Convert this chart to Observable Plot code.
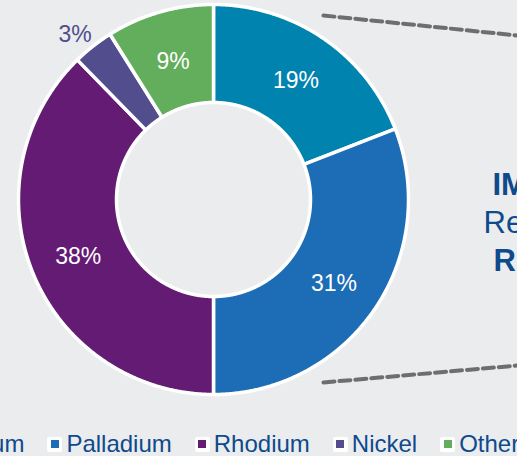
<!DOCTYPE html>
<html>
<head>
<meta charset="utf-8">
<script src="https://cdn.jsdelivr.net/npm/d3@7"></script>
<script src="https://cdn.jsdelivr.net/npm/@observablehq/plot@0.6"></script>
<style>
  html, body { margin: 0; padding: 0; background: #EBECEE; overflow: hidden; }
  #wrap { position: relative; width: 517px; height: 456px; overflow: hidden; font-family: "Liberation Sans", Arial, sans-serif; }
  #chart svg { display: block; }
  #legend { position: absolute; top: 432px; left: -88px; display: flex; gap: 23px; white-space: nowrap; }
  .item { display: flex; align-items: center; height: 24px; }
  .box { width: 15px; height: 15px; background: #fff; border-radius: 2px; display: flex; align-items: center; justify-content: center; }
  .sw { width: 8px; height: 8px; }
  .lab { margin-left: 4px; font-size: 24px; color: #0E4A8C; line-height: 24px; }
</style>
</head>
<body>
<div id="wrap">
  <div id="chart"></div>
  <div id="legend"></div>
</div>
<script>
// ---- data ----
const metals = ["Platinum", "Palladium", "Rhodium", "Nickel", "Other"];
const shares = [19.1, 30.9, 37.7, 3.4, 8.9];
const colors = ["#0083AE", "#1C6DB5", "#641B74", "#524D8C", "#63AE5C"];
const sideLines = ["IMPLATS", "Revenue", "R100bn"];
const sideWeights = ["bold", "normal", "bold"];

// ---- layout ----
const W = 517, H = 425;
const cx = 213, cy = 199;
const rOuter = 195, rInner = 97, rLabel = 146, rOutside = 216;

const rows = metals.map((m, i) => ({metal: m, share: shares[i], color: colors[i]}));
const arcs = d3.pie().sort(null).value(d => d.share)(rows);

const pt = (r, a) => [r * Math.sin(a), r * Math.cos(a)];

const poly = [];
arcs.forEach(a => {
  const n = Math.max(2, Math.ceil((a.endAngle - a.startAngle) / 0.005));
  const pts = [];
  for (let i = 0; i <= n; i++) pts.push(pt(rOuter, a.startAngle + (a.endAngle - a.startAngle) * i / n));
  for (let i = n; i >= 0; i--) pts.push(pt(rInner, a.startAngle + (a.endAngle - a.startAngle) * i / n));
  pts.push(pts[0]);
  pts.forEach(([x, y]) => poly.push({metal: a.data.metal, x, y}));
});

const labels = arcs.map(a => {
  const mid = (a.startAngle + a.endAngle) / 2;
  const inside = a.data.share >= 5;
  const [x, y] = pt(inside ? rLabel : rOutside, mid);
  return {x, y, text: Math.round(a.data.share) + "%", fill: inside ? "#ffffff" : a.data.color, inside};
});

// connector lines toward the side panel (in chart units)
const connectors = [
  {g: "top", x: 110, y: 184}, {g: "top", x: 304, y: 164},
  {g: "bot", x: 110, y: -183}, {g: "bot", x: 304, y: -166}
];
const side = sideLines.map((t, i) => ({
  text: t, weight: sideWeights[i],
  x: [279, 270, 280][i], y: [5, -33, -71][i]
}));

const plot = Plot.plot({
  width: W, height: H,
  margin: 0,
  style: {background: "transparent", fontFamily: "'Liberation Sans', Arial, sans-serif"},
  x: {domain: [-cx, W - cx], axis: null},
  y: {domain: [-(H - cy), cy], axis: null},
  color: {domain: metals, range: colors},
  marks: [
    Plot.line(connectors, {x: "x", y: "y", z: "g", stroke: "#6E6E70", strokeWidth: 4, strokeDasharray: "11,5"}),
    Plot.line(poly, {x: "x", y: "y", z: "metal", fill: "metal", stroke: "#ffffff", strokeWidth: 3.5, strokeLinejoin: "round", curve: "linear"}),
    Plot.text(labels.filter(d => d.inside), {x: "x", y: "y", text: "text", fill: "#ffffff", fontSize: 23, textAnchor: "middle", lineAnchor: "middle", dy: 2}),
    Plot.text(labels.filter(d => !d.inside), {x: "x", y: "y", text: "text", fill: d => d.fill, fontSize: 23, textAnchor: "middle", lineAnchor: "middle", dx: -5, dy: 5}),
    Plot.text(side.filter(d => d.weight === "bold"), {x: "x", y: "y", text: "text", fill: "#0E4A8C", fontSize: 31, fontWeight: "bold", textAnchor: "start", lineAnchor: "bottom"}),
    Plot.text(side.filter(d => d.weight !== "bold"), {x: "x", y: "y", text: "text", fill: "#0E4A8C", fontSize: 31, textAnchor: "start", lineAnchor: "bottom"})
  ]
});
document.getElementById("chart").appendChild(plot);

// legend
const leg = document.getElementById("legend");
metals.forEach((m, i) => {
  const it = document.createElement("div");
  it.className = "item";
  it.innerHTML = `<div class="box"><div class="sw" style="background:${colors[i]}"></div></div><span class="lab">${m}</span>`;
  leg.appendChild(it);
});
</script>
</body>
</html>
